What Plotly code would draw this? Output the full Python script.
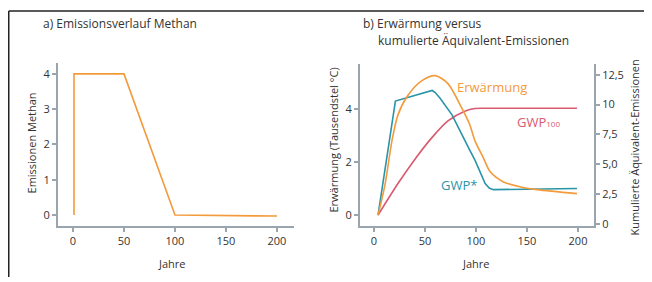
import plotly.graph_objects as go

# ---- data ----
years_emis = [1, 1, 50, 100, 200]
methane_emis = [0, 4, 4, 0, -0.03]

years_warm = [4, 11, 17.6, 23.5, 33, 47, 60, 72.5, 86, 94, 99, 107, 114, 126.5, 143, 160, 199]
warming = [0, 1.19, 2.8, 3.78, 4.5, 5.07, 5.26, 4.96, 4.04, 3.4, 2.8, 2.18, 1.63, 1.26, 1.07, 0.96, 0.81]

years_gwpstar = [4, 21, 57, 60, 65, 76.5, 94, 99, 109, 113, 117, 199]
gwpstar = [0, 4.3, 4.7, 4.62, 4.4, 3.78, 2.44, 2.07, 1.19, 1.02, 0.96, 1.0]

years_gwp100 = [4, 23.5, 40, 57, 72.5, 89, 99, 110, 150, 199]
gwp100 = [0, 1.19, 2.1, 2.93, 3.55, 3.92, 4.02, 4.03, 4.03, 4.03]

x_ticks = [0, 50, 100, 150, 200]
ya_ticks = [0, 1, 2, 3, 4]
yb_ticks = [0, 2, 4]
yb2_ticks = [0, 2.5, 5, 7.5, 10, 12.5]
yb2_text = ["0", "2,5", "5,0", "7,5", "10", "12,5"]

ORANGE = "#f39a3b"
TEAL = "#2a94a8"
RED = "#d9596e"
AXIS = "#9ba5ad"
TXT = "#333333"
FONT = "Open Sans"

OFF = 8  # page body margin
W, H = 652 - OFF, 282 - OFF
def px(x): return (x - OFF) / W
def py(y): return 1 - (y - OFF) / H

fig = go.Figure()
fig.add_trace(go.Scatter(x=years_emis, y=methane_emis, mode="lines",
                         line=dict(color=ORANGE, width=1.6), xaxis="x", yaxis="y"))
fig.add_trace(go.Scatter(x=years_gwp100, y=gwp100, mode="lines",
                         line=dict(color=RED, width=1.6, shape="spline", smoothing=0.8),
                         xaxis="x2", yaxis="y2"))
fig.add_trace(go.Scatter(x=years_gwpstar, y=gwpstar, mode="lines",
                         line=dict(color=TEAL, width=1.6),
                         xaxis="x2", yaxis="y2"))
fig.add_trace(go.Scatter(x=years_warm, y=warming, mode="lines",
                         line=dict(color=ORANGE, width=1.6, shape="spline", smoothing=0.8),
                         xaxis="x2", yaxis="y2"))
# invisible trace to activate right axis
fig.add_trace(go.Scatter(x=[0], y=[0], mode="markers", marker=dict(opacity=0),
                         xaxis="x2", yaxis="y3", hoverinfo="skip"))

axis_common = dict(showline=True, linecolor=AXIS, linewidth=2, ticks="outside",
                   tickcolor=AXIS, ticklen=4, tickwidth=1.5, showgrid=False,
                   zeroline=False, tickfont=dict(family=FONT, size=11, color=TXT))

fig.update_layout(
    width=W, height=H, margin=dict(l=0, r=0, t=0, b=0),
    paper_bgcolor="white", plot_bgcolor="white", showlegend=False,
    font=dict(family=FONT, color=TXT),
    xaxis=dict(domain=[px(58), px(294)], range=[-14.7, 216.7], anchor="y",
               tickvals=x_ticks, **axis_common),
    yaxis=dict(domain=[py(230), py(64)], range=[-0.31, 4.31], anchor="x",
               tickvals=ya_ticks, **axis_common),
    xaxis2=dict(domain=[px(360), px(594)], range=[-13.7, 215.7], anchor="y2",
                tickvals=x_ticks, **axis_common),
    yaxis2=dict(domain=[py(230), py(65)], range=[-0.41, 5.70], anchor="x2",
                tickvals=yb_ticks, **axis_common),
    yaxis3=dict(range=[-0.16, 13.4], overlaying="y2", side="right", anchor="x2",
                tickvals=yb2_ticks, ticktext=yb2_text, **axis_common),
)

def ann(text, x, y, size=11, color=TXT, angle=0, xanchor="center"):
    fig.add_annotation(text=text, x=px(x), y=py(y), xref="paper", yref="paper",
                       showarrow=False, textangle=angle, xanchor=xanchor, yanchor="middle",
                       font=dict(family=FONT, size=size, color=color))

ann("a) Emissionsverlauf Methan", 41, 24, size=12, xanchor="left")
ann("b) Erwärmung versus", 361, 24, size=12, xanchor="left")
ann("kumulierte Äquivalent-Emissionen", 376, 41, size=12, xanchor="left")
ann("Emissionen Methan", 31, 146, size=11, angle=-90)
ann("Jahre", 172, 268, size=11)
ann("Jahre", 476, 268, size=11)
ann("Erwärmung (Tausendstel °C)", 334, 143, size=11, angle=-90)
ann("Kumulierte Äquivalent-Emissionen", 634, 150, size=11, angle=-90)
ann("Erwärmung", 492, 88, size=13, color=ORANGE)
ann("GWP<span style='font-size:8px'>100</span>", 538, 124, size=13, color=RED)
ann("GWP*", 459, 188, size=13, color=TEAL)

# frame lines
fig.add_shape(type="line", xref="paper", yref="paper", x0=px(8.75), x1=1, y0=py(11), y1=py(11),
              line=dict(color="#222222", width=1.5))
fig.add_shape(type="line", xref="paper", yref="paper", x0=px(8.75), x1=px(8.75), y0=py(11), y1=0,
              line=dict(color="#222222", width=1.5))

fig.write_html("out.html")
